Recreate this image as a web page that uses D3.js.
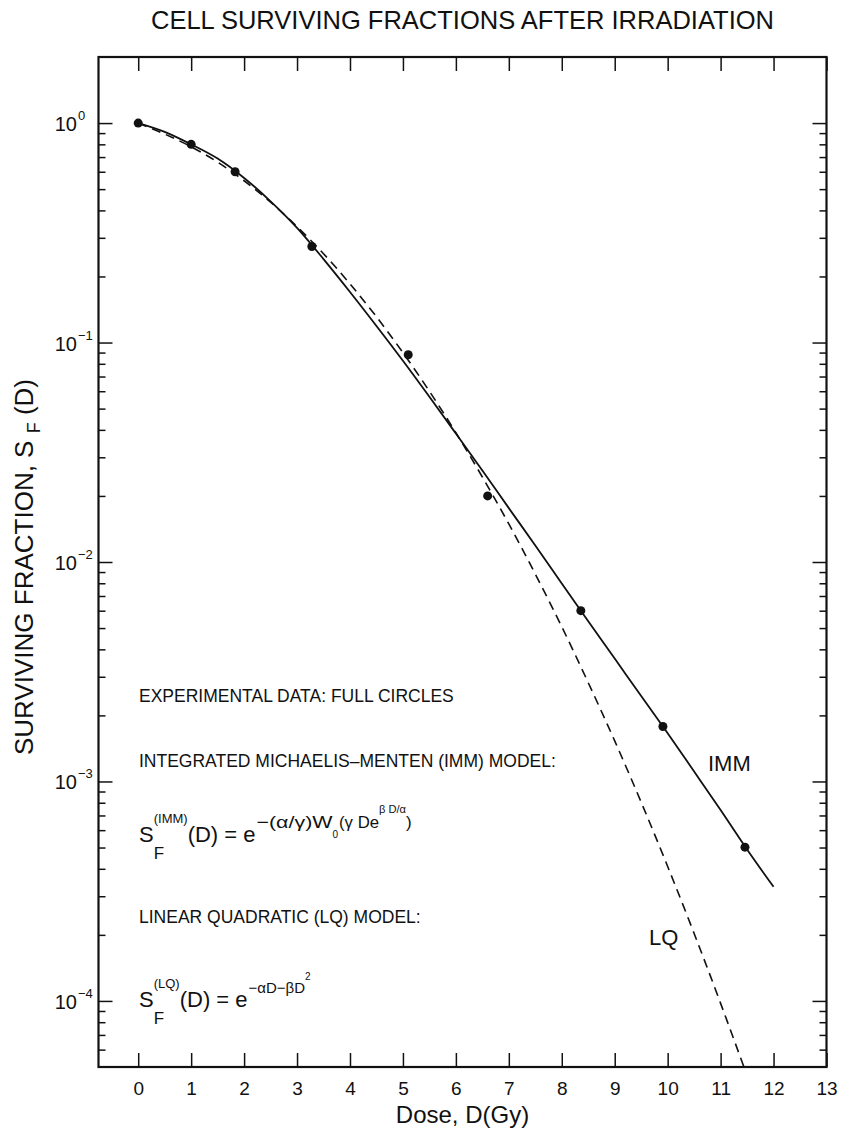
<!DOCTYPE html>
<html>
<head>
<meta charset="utf-8">
<script src="https://cdn.jsdelivr.net/npm/d3@7"></script>
<style>
  body { margin: 0; background: #fff; }
  svg text { font-family: "Liberation Sans", Arial, Helvetica, sans-serif; fill: #111; }
</style>
</head>
<body>
<div id="chart"></div>
<script>
const chartTitle = "CELL SURVIVING FRACTIONS AFTER IRRADIATION";
const xTicks = [0, 1, 2, 3, 4, 5, 6, 7, 8, 9, 10, 11, 12, 13];
const yDecades = [0, -1, -2, -3, -4];
const yMinorMult = [2, 3, 4, 5, 6, 7, 8, 9];

// experimental data (full circles)
const expDose = [0, 1.0, 1.83, 3.28, 5.1, 6.6, 8.36, 9.91, 11.46];
const expSF = [1.0, 0.80, 0.60, 0.274, 0.088, 0.020, 0.0060, 0.00178, 0.000502];

// IMM model curve
const immDose = [0, 0.5, 1, 1.5, 2, 2.5, 3, 3.5, 4, 4.5, 5, 5.5, 6, 6.5, 7, 7.5, 8, 8.5, 9, 9.5, 10, 10.5, 11, 11.5, 12];
const immSF = [1, 0.912, 0.800, 0.689, 0.562, 0.440, 0.333, 0.240, 0.170, 0.119, 0.0826, 0.0566, 0.0385, 0.0261,
  0.0176, 0.0119, 0.00798, 0.00537, 0.00363, 0.00245, 0.00166, 0.00111, 0.000741, 0.000490, 0.000331];

// LQ model curve
const lqDose = [0, 0.5, 1, 1.5, 2, 2.5, 3, 3.5, 4, 4.5, 5, 5.5, 6, 6.5, 7, 7.5, 8, 8.5, 9, 9.5, 10, 10.5, 11, 11.44];
const lqSF = [1, 0.891, 0.780, 0.664, 0.546, 0.436, 0.337, 0.254, 0.185, 0.131, 0.0899, 0.0600, 0.0388, 0.0244,
  0.0149, 0.00881, 0.00507, 0.00282, 0.00153, 0.000804, 0.000410, 0.000203, 0.0000975, 0.00005];

const width = 841;
const height = 1133;

const svg = d3.select('#chart')
    .append('svg')
    .attr('width', width)
    .attr('height', height);

const x = d3.scaleLinear().domain([-0.75, 13]).range([98.5, 826.5]);
const y = d3.scaleLog().domain([5e-5, 2]).range([1067, 57]);

const [x0, x1] = x.range();
const [yb, yt] = y.range();

const majors = yDecades.map(d => Math.pow(10, d));
const minors = [];
[-5, -4, -3, -2, -1, 0].forEach(d => {
    yMinorMult.forEach(m => {
        const v = m * Math.pow(10, d);
        if (v > 5e-5 && v < 2) minors.push(v);
    });
});

function styleAxis(g) {
    g.select('.domain').remove();
    g.selectAll('.tick line').attr('stroke', '#111').attr('stroke-width', 1.5);
}

// x axes
svg.append('g')
    .attr('transform', `translate(0,${yb})`)
    .call(d3.axisBottom(x).tickValues(xTicks).tickSize(-14).tickPadding(15).tickFormat(d3.format('d')))
    .call(styleAxis)
    .selectAll('text')
    .style('font-size', '19px')
    .attr('fill', '#111');

svg.append('g')
    .attr('transform', `translate(0,${yt})`)
    .call(d3.axisTop(x).tickValues(xTicks).tickSize(-14).tickFormat(''))
    .call(styleAxis);

// y axes, major + minor
svg.append('g').attr('transform', `translate(${x0},0)`)
    .call(d3.axisLeft(y).tickValues(majors).tickSize(-14).tickFormat(''))
    .call(styleAxis);
svg.append('g').attr('transform', `translate(${x0},0)`)
    .call(d3.axisLeft(y).tickValues(minors).tickSize(-7).tickFormat(''))
    .call(styleAxis);
svg.append('g').attr('transform', `translate(${x1},0)`)
    .call(d3.axisRight(y).tickValues(majors).tickSize(-14).tickFormat(''))
    .call(styleAxis);
svg.append('g').attr('transform', `translate(${x1},0)`)
    .call(d3.axisRight(y).tickValues(minors).tickSize(-7).tickFormat(''))
    .call(styleAxis);

// y tick labels 10^n
yDecades.forEach(d => {
    const py = y(Math.pow(10, d));
    svg.append('text').attr('x', 77).attr('y', py + 8)
        .attr('text-anchor', 'end').style('font-size', '20px').text('10');
    svg.append('text').attr('x', 78).attr('y', py - 3)
        .style('font-size', '13px').text(d === 0 ? '0' : '\u2212' + (-d));
});

// frame
svg.append('rect')
    .attr('x', x0).attr('y', yt)
    .attr('width', x1 - x0).attr('height', yb - yt)
    .attr('fill', 'none').attr('stroke', '#111').attr('stroke-width', 2.2);

// curves
const line = d3.line()
    .x(d => x(d[0]))
    .y(d => y(d[1]))
    .curve(d3.curveMonotoneX);

svg.append('path')
    .attr('d', line(d3.zip(lqDose, lqSF)))
    .attr('fill', 'none').attr('stroke', '#111')
    .attr('stroke-width', 1.6).attr('stroke-dasharray', '9,6');

svg.append('path')
    .attr('d', line(d3.zip(immDose, immSF)))
    .attr('fill', 'none').attr('stroke', '#111')
    .attr('stroke-width', 1.8);

svg.selectAll('circle.exp')
    .data(d3.zip(expDose, expSF))
    .enter()
    .append('circle')
    .attr('class', 'exp')
    .attr('cx', d => x(d[0]))
    .attr('cy', d => y(d[1]))
    .attr('r', 4.5)
    .attr('fill', '#111');

// titles
svg.append('text')
    .attr('x', (x0 + x1) / 2).attr('y', 29)
    .attr('text-anchor', 'middle').style('font-size', '25.5px')
    .text(chartTitle);

svg.append('text')
    .attr('x', (x0 + x1) / 2).attr('y', 1123)
    .attr('text-anchor', 'middle').style('font-size', '24px')
    .text('Dose, D(Gy)');

const ylab = svg.append('text')
    .attr('transform', `translate(33,${(yt + yb) / 2 + 5}) rotate(-90)`)
    .attr('text-anchor', 'middle').style('font-size', '26px');
ylab.append('tspan').text('SURVIVING FRACTION, S ');
ylab.append('tspan').attr('dy', 7).style('font-size', '18px').text('F');
ylab.append('tspan').attr('dy', -7).text(' (D)');

// curve labels
svg.append('text').attr('x', 708).attr('y', 771).style('font-size', '22px').text('IMM');
svg.append('text').attr('x', 649).attr('y', 945).style('font-size', '22px').text('LQ');

// notes
const notes = [
    ['EXPERIMENTAL DATA: FULL CIRCLES', 702],
    ['INTEGRATED MICHAELIS\u2013MENTEN (IMM) MODEL:', 767],
    ['LINEAR QUADRATIC (LQ) MODEL:', 923]
];
notes.forEach(n => {
    svg.append('text').attr('x', 139).attr('y', n[1]).style('font-size', '17.5px').text(n[0]);
});

// formulas built from pieces
function rich(px, py, parts) {
    let cx = px;
    let held = 0;
    parts.forEach(p => {
        const t = svg.append('text')
            .attr('x', cx).attr('y', py + (p.dy || 0))
            .style('font-size', p.size + 'px')
            .text(p.t);
        if (p.len) t.attr('textLength', p.len).attr('lengthAdjust', 'spacingAndGlyphs');
        const w = p.len || t.node().getComputedTextLength();
        if (p.hold) {
            held = w;
        } else {
            cx += Math.max(w, held) + (p.gap || 0);
            held = 0;
        }
    });
}

rich(139, 842, [
    { t: 'S', size: 22 },
    { t: '(IMM)', size: 13, dy: -19, hold: true },
    { t: 'F', size: 17, dy: 17 },
    { t: '(D) = e', size: 22, gap: 1 },
    { t: '\u2212(\u03b1/\u03b3)W', size: 17, dy: -14, len: 76 },
    { t: '0', size: 10, dy: -4, gap: 1 },
    { t: '(\u03b3 De', size: 17, dy: -14, len: 40 },
    { t: '\u03b2 D/\u03b1', size: 11, dy: -29, len: 27 },
    { t: ')', size: 17, dy: -14 }
]);

rich(139, 1007, [
    { t: 'S', size: 22 },
    { t: '(LQ)', size: 13, dy: -19, hold: true },
    { t: 'F', size: 17, dy: 17 },
    { t: '(D) = e', size: 22, gap: 1 },
    { t: '\u2212\u03b1D\u2212\u03b2D', size: 15, dy: -14 },
    { t: '2', size: 10, dy: -27 }
]);
</script>
</body>
</html>
